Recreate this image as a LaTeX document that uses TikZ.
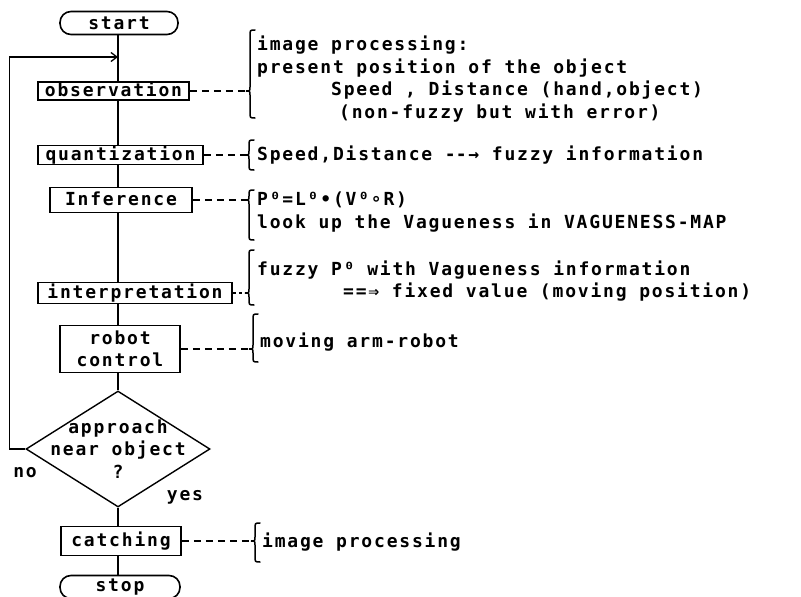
\documentclass[tikz,border=0pt]{standalone}
\usepackage{fontspec}
\newfontfamily\plotfont{DejaVu Sans Mono}[LetterSpace=10,BoldFont={DejaVu Sans Mono Bold}]
\usetikzlibrary{shapes.geometric,arrows.meta}

% brace: name of tip, x of stem, top, tip, bottom
\newcommand{\notebrace}[5]{%
  \coordinate (#1) at (#2-4,#4);
  \draw[bracestroke] (#2+5,#3) .. controls (#2,#3) .. (#2,#3+6) -- (#2,#4-4)
     .. controls (#2,#4) .. (#1) .. controls (#2,#4) .. (#2,#4+4)
     -- (#2,#5-6) .. controls (#2,#5) .. (#2+5,#5);}

\begin{document}
\begin{tikzpicture}[x=1pt,y=-1pt,
    every node/.style={font=\plotfont\bfseries\fontsize{18}{22.5}\selectfont},
    terminal/.style={draw,line width=1.6pt,rounded corners=11pt,minimum height=23pt,inner sep=0pt},
    process/.style={draw,line width=1.6pt,inner sep=1pt},
    oneline/.style={process,text height=13pt,text depth=3pt},
    decision/.style={draw,diamond,line width=1.4pt,minimum width=184pt,minimum height=116pt,inner sep=0pt},
    note/.style={anchor=west,align=left,inner sep=0pt},
    link/.style={line width=1.3pt,dash pattern=on 7pt off 5pt},
    bracestroke/.style={line width=1.5pt,line cap=round}]
  \useasboundingbox (0,0) rectangle (801,597);

  \node[terminal,minimum width=118pt]             (start)  at (119,23)  {start};
  \node[oneline,minimum width=151pt,minimum height=17pt] (obs)    at (113.5,91) {observation};
  \node[oneline,minimum width=165pt,minimum height=19pt] (quant)  at (120.5,155) {quantization};
  \node[oneline,minimum width=142pt,minimum height=25pt] (infer)  at (121,200) {Inference};
  \node[oneline,minimum width=194pt,minimum height=21pt] (interp) at (135,293) {interpretation};
  \node[process,align=center,minimum width=120pt,minimum height=47pt] (robot) at (120,349) {robot\\control};
  \node[decision,label={[align=center]center:approach\\near object\\?}] (approach) at (118,449) {};
  \node[oneline,minimum width=120pt,minimum height=29pt] (catch)  at (121,541) {catching};
  \node[terminal,minimum width=120pt]             (stop)   at (120,587) {stop};

  \node (no)  at (25,473)  {no};
  \node (yes) at (185,497) {yes};

  \coordinate (loop) at (118,57);

  % main flow
  \begin{scope}[line width=1.3pt]
     \draw (start.south -| loop) -- (obs.north -| loop);
     \draw (obs.south -| loop)   -- (quant.north -| loop);
     \draw (quant.south -| loop) -- (infer.north -| loop);
     \draw (infer.south -| loop) -- (interp.north -| loop);
     \draw (interp.south -| loop) -- (robot.north -| loop);
     \draw (robot.south -| loop) -- (approach.north);
     \draw (approach.south) -- (catch.north -| approach.south);
     \draw (catch.south -| approach.south) -- (stop.north -| approach.south);
     \draw[-{Straight Barb[length=6pt,width=9pt]}] (approach.west) -- ++(-16,0) |- (loop);
  \end{scope}

  % comments on the right
  \notebrace{obsb}{250}{30}{91}{118}
  \notebrace{quantb}{249}{140}{155}{170}
  \notebrace{inferb}{249}{190}{200}{240}
  \notebrace{interpb}{249}{250}{293}{305}
  \notebrace{robotb}{253}{314}{349}{362}
  \notebrace{catchb}{255}{523}{541}{562}

  \draw[link] (obs.east)    -- (obsb);
  \draw[link] (quant.east)  -- (quantb);
  \draw[link] (infer.east)  -- (inferb);
  \draw[link,dash pattern=on 3pt off 3pt] (interp.east) -- (interpb);
  \draw[link] (robot.east)  -- (robotb);
  \draw[link] (catch.east)  -- (catchb);

  \node[note] (obstext)    at (257,79)  {image processing:\\present position of the object\\\hspace*{74pt}Speed , Distance (hand,object)\\\hspace*{82pt}(non-fuzzy but with error)};
  \node[note] (quanttext)  at (257,155) {Speed,Distance -\kern0pt-→ fuzzy information};
  \node[note] (infertext)  at (257,212) {P⁰=L⁰•(V⁰∘R)\\look up the Vagueness in VAGUENESS-MAP};
  \node[note] (interptext) at (257,281) {fuzzy P⁰ with Vagueness information\\\hspace*{86pt}==⇒ fixed value (moving position)};
  \node[note] (robottext)  at (260,342) {moving arm-robot};
  \node[note] (catchtext)  at (262,542) {image processing};
\end{tikzpicture}
\end{document}
